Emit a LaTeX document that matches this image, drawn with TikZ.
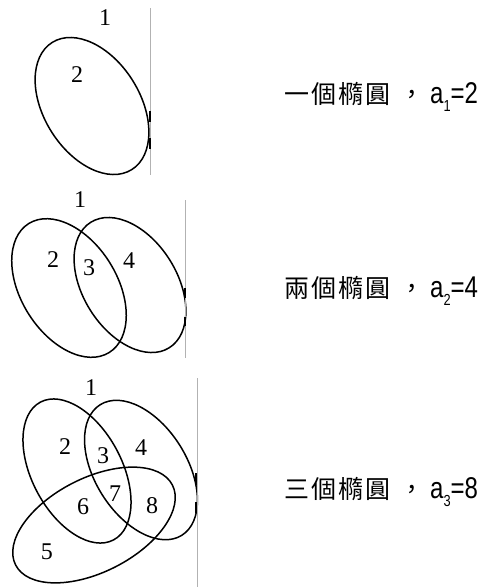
\documentclass[tikz,border=0pt]{standalone}
\usepackage{fontspec}
\setmainfont{Liberation Serif}
\newfontfamily\cjkfont[LetterSpace=8]{Noto Sans CJK TC}
\newfontfamily\narrowfont[FakeStretch=0.8]{Liberation Sans}
\usetikzlibrary{positioning}
\newcommand\lowidx[1]{\raisebox{-8pt}{\fontsize{16}{16}\selectfont #1}}
\tikzset{
  venn/.style={
    draw=black,
    line width=1.5pt
  },
  region/.style={
    inner sep=0pt,
    font=\fontsize{24}{24}\selectfont
  },
  caption/.style={
    inner sep=0pt,
    anchor=base west,
    font=\fontsize{25}{25}\selectfont
  },
  page edge/.style={
    draw=black!30,
    line width=0.6pt
  },
  scan mark/.style={
    draw=black,
    line width=2.4pt
  }
}

\begin{document}
\begin{tikzpicture}[x=1pt, y=-1pt]
  \useasboundingbox (0,0) rectangle (484,587);

  % one ellipse
  \coordinate (c1) at (92,106);
  \draw[venn, rotate around={-58:(c1)}] (c1) ellipse [x radius=75, y radius=48];
  \node[region] (o1) at (105,18) {1};
  \node[region] (o2) at (77,75) {2};
  \draw[page edge] (150,8) -- (150,175);
  \draw[scan mark] (150,111) -- (150,122);
  \draw[scan mark] (150,138) -- (150,149);

  % two ellipses
  \coordinate (c2a) at (69,288);
  \coordinate (c2b) at (130,285);
  \draw[venn, rotate around={-58:(c2a)}] (c2a) ellipse [x radius=76, y radius=48];
  \draw[venn, rotate around={-58:(c2b)}] (c2b) ellipse [x radius=74, y radius=47];
  \node[region] (t1) at (80,200) {1};
  \node[region] (t2) at (53,260) {2};
  \node[region] (t3) at (89,268) {3};
  \node[region] (t4) at (129,261) {4};
  \draw[page edge] (185,200) -- (185,358);
  \draw[scan mark] (185,288) -- (185,298);
  \draw[scan mark] (185,317) -- (185,326);

  % three ellipses
  \coordinate (c3a) at (77,471);
  \coordinate (c3b) at (141,470);
  \coordinate (c3c) at (94,525);
  \draw[venn, rotate around={-62:(c3a)}] (c3a) ellipse [x radius=78, y radius=45];
  \draw[venn, rotate around={-58:(c3b)}] (c3b) ellipse [x radius=77, y radius=46];
  \draw[venn, rotate around={27:(c3c)}] (c3c) ellipse [x radius=88, y radius=47];
  \node[region] (h1) at (91,388) {1};
  \node[region] (h2) at (65,447) {2};
  \node[region] (h3) at (103,456) {3};
  \node[region] (h4) at (141,448) {4};
  \node[region] (h5) at (47,552) {5};
  \node[region] (h6) at (83,507) {6};
  \node[region] (h7) at (115,494) {7};
  \node[region] (h8) at (152,506) {8};
  \draw[page edge] (197,378) -- (197,587);
  \draw[scan mark] (196,473) -- (196,485);
  \draw[scan mark] (196,502) -- (196,513);

  % captions
  \node[caption] (n1) at (284,103) {\cjkfont 一個橢圓\hspace{9pt}，\hspace{6pt}{\narrowfont\fontsize{30}{30}\selectfont a\lowidx{1}=2}};
  \node[caption] (n2) at (284,297) {\cjkfont 兩個橢圓\hspace{9pt}，\hspace{6pt}{\narrowfont\fontsize{30}{30}\selectfont a\lowidx{2}=4}};
  \node[caption] (n3) at (284,498) {\cjkfont 三個橢圓\hspace{9pt}，\hspace{6pt}{\narrowfont\fontsize{30}{30}\selectfont a\lowidx{3}=8}};
\end{tikzpicture}
\end{document}
